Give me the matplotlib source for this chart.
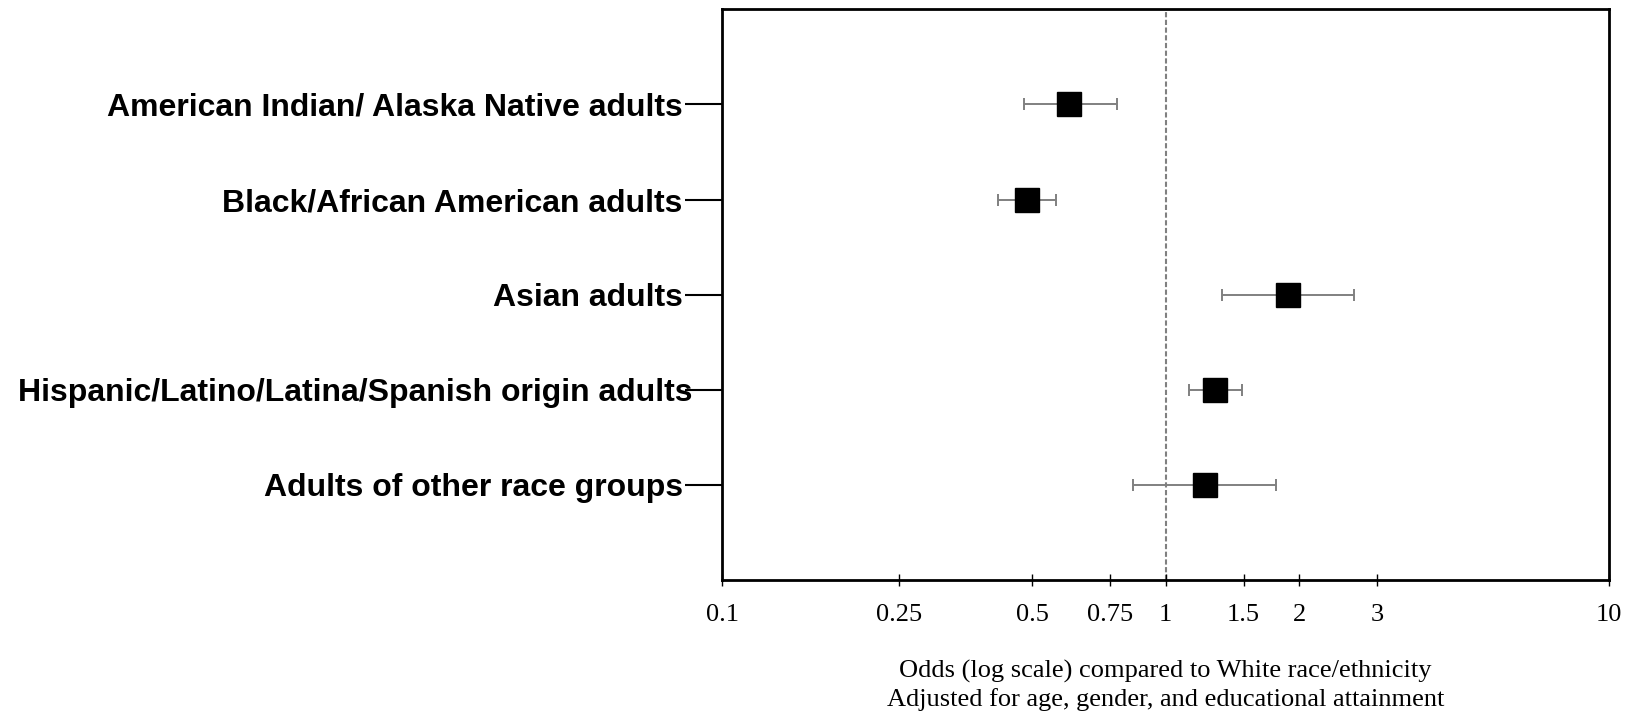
import numpy as np
import matplotlib.pyplot as plt
from matplotlib.transforms import ScaledTranslation

groups = ['American Indian/ Alaska Native adults',
          'Black/African American adults',
          'Asian adults',
          'Hispanic/Latino/Latina/Spanish origin adults',
          'Adults of other race groups']
odds = [0.605, 0.486, 1.89, 1.29, 1.23]
ci_low = [0.48, 0.418, 1.34, 1.13, 0.844]
ci_high = [0.776, 0.567, 2.66, 1.49, 1.77]
xticks = [0.1, 0.25, 0.5, 0.75, 1, 1.5, 2, 3, 10]
xticklabels = ['0.1', '0.25', '0.5', '0.75', '1', '1.5', '2', '3', '10']

odds = np.array(odds)
err = [odds - np.array(ci_low), np.array(ci_high) - odds]
ypos = np.arange(1, len(groups) + 1)

fig = plt.figure(figsize=(16.29, 7.14), dpi=100)
ax = fig.add_axes([0.4435, 0.1877, 0.9876 - 0.4435, 0.987 - 0.1877])

ax.axvline(1, color='#808080', lw=1.5, ls=(0, (2.5, 1.2)), zorder=1)
ax.errorbar(odds, ypos, xerr=err, fmt='none', ecolor='#808080',
            elinewidth=1.4, capsize=4.3, capthick=1.4, zorder=2)
ax.plot(odds, ypos, 's', color='black', markersize=16.6, zorder=3)

ax.set_xscale('log')
ax.set_xlim(0.1, 10)
ax.set_ylim(6, 0)
ax.set_xticks(xticks)
ax.set_xticklabels(xticklabels, family=['Liberation Serif', 'DejaVu Serif'], fontsize=19)
ax.xaxis.set_minor_locator(plt.NullLocator())
ax.tick_params(axis='x', direction='inout', length=8, width=1, pad=13.5)

ax.set_yticks(ypos)
ax.set_yticklabels(groups, family=['Liberation Sans', 'DejaVu Sans'],
                   fontweight='bold', fontsize=23)
ax.tick_params(axis='y', direction='out', length=26.6, width=1.5, pad=2)
# the long label sits a little closer to its tick in the original
lbl = ax.get_yticklabels()[3]
lbl.set_transform(lbl.get_transform() + ScaledTranslation(0.10, 0, fig.dpi_scale_trans))

for s in ax.spines.values():
    s.set_linewidth(2)

ax.set_xlabel('Odds (log scale) compared to White race/ethnicity\n'
              'Adjusted for age, gender, and educational attainment',
              family=['Liberation Serif', 'DejaVu Serif'], fontsize=19,
              labelpad=24, linespacing=1.3)

fig.savefig('out.png', dpi=100)
